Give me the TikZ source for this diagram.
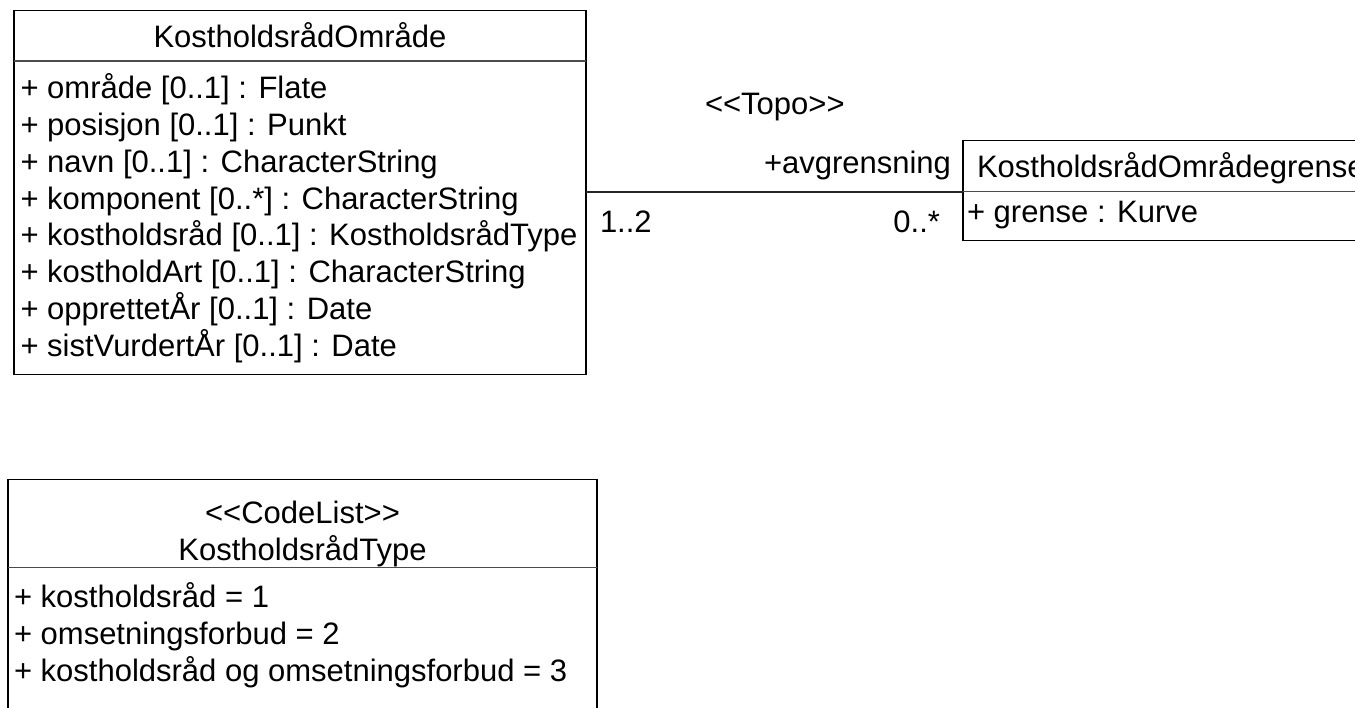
\documentclass[tikz,border=0pt]{standalone}
\usepackage{fontspec}
\setmainfont{Liberation Sans}
\begin{document}
\begin{tikzpicture}[x=1pt,y=1pt,
  box/.style={draw=black, line width=1.2pt, inner sep=0pt, outer sep=0pt, anchor=north west},
  sep/.style={draw=black!70, line width=1.2pt},
  conn/.style={draw=black!85, line width=1.2pt},
  lbl/.style={inner sep=0pt, outer sep=0pt, font=\fontsize{31}{37}\selectfont}]
\useasboundingbox (0,0) rectangle (1355,-707);
\clip (0,0) rectangle (1355,-707);
\fill[white] (0,0) rectangle (1355,-707);

% ---------- KostholdsrådOmråde ----------
\node[box, minimum width=572pt, minimum height=364.2pt] (b1) at (14,-10.5) {};
\coordinate (h1) at (0,-61);
\draw[sep] (b1.west |- h1) -- (b1.east |- h1);
\node[lbl, anchor=base] (t1) at (300,-47) {KostholdsrådOmråde};
\node[lbl, anchor=base west] (a1) at (20.5,-98.3) {+ område [0..1] : Flate};
\node[lbl, anchor=base west] (a2) at (20.5,-135.2) {+ posisjon [0..1] : Punkt};
\node[lbl, anchor=base west] (a3) at (20.5,-172.1) {+ navn [0..1] : CharacterString};
\node[lbl, anchor=base west] (a4) at (20.5,-209.0) {+ komponent [0..*] : CharacterString};
\node[lbl, anchor=base west] (a5) at (20.5,-245.9) {+ kostholdsråd [0..1] : KostholdsrådType};
\node[lbl, anchor=base west] (a6) at (20.5,-282.8) {+ kostholdArt [0..1] : CharacterString};
\node[lbl, anchor=base west] (a7) at (20.5,-319.7) {+ opprettetÅr [0..1] : Date};
\node[lbl, anchor=base west] (a8) at (20.5,-356.6) {+ sistVurdertÅr [0..1] : Date};

% ---------- KostholdsrådOmrådegrense ----------
\node[box, minimum width=413pt, minimum height=100.4pt] (b2) at (963,-140.3) {};
\coordinate (h2) at (0,-191.5);
\draw[sep] (b2.west |- h2) -- (b2.east |- h2);
\node[lbl, anchor=base west] (t2) at (977,-177.5) {KostholdsrådOmrådegrense};
\node[lbl, anchor=base west] (g1) at (967,-222.5) {+ grense : Kurve};

% ---------- association ----------
\coordinate (cy) at (0,-192);
\draw[conn] (b1.east |- cy) -- (b2.west |- cy);
\node[lbl, anchor=base west] (st) at (705,-114) {<\kern0pt<Topo>\kern0pt>};
\node[lbl, anchor=base east] (role) at (951,-173) {+avgrensning};
\node[lbl, anchor=base west] (m1) at (600,-232.5) {1..2};
\node[lbl, anchor=base east] (m2) at (940,-232.5) {0..*};

% ---------- KostholdsrådType ----------
\node[box, minimum width=589pt, minimum height=260pt] (b3) at (8,-479.3) {};
\coordinate (h3) at (0,-567.7);
\draw[sep] (b3.west |- h3) -- (b3.east |- h3);
\node[lbl, anchor=base] (s3) at (302.5,-523.5) {<\kern0pt<CodeList>\kern0pt>};
\node[lbl, anchor=base] (t3) at (302.5,-560.5) {KostholdsrådType};
\node[lbl, anchor=base west] (c1) at (14,-607) {+ kostholdsråd = 1};
\node[lbl, anchor=base west] (c2) at (14,-644) {+ omsetningsforbud = 2};
\node[lbl, anchor=base west] (c3) at (14,-681) {+ kostholdsråd og omsetningsforbud = 3};
\end{tikzpicture}
\end{document}
